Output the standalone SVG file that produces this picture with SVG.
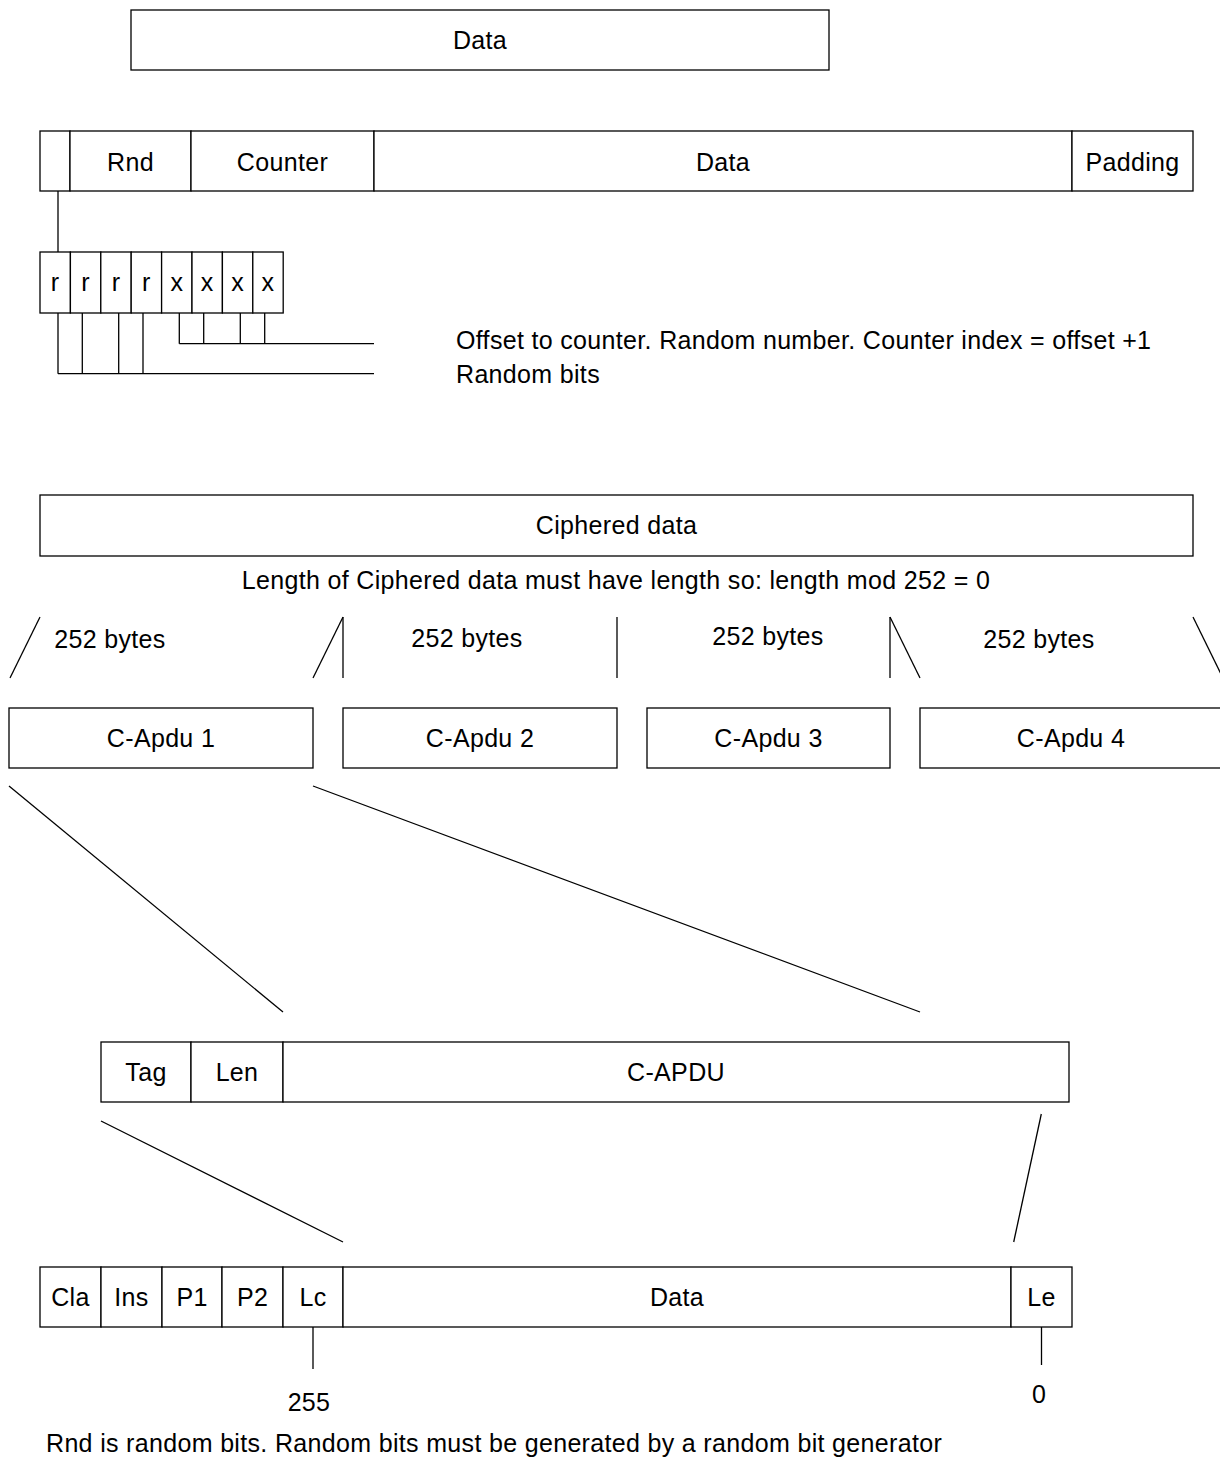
<svg xmlns="http://www.w3.org/2000/svg" width="1220" height="1457" viewBox="0 0 1220 1457">
<style>
rect{fill:#fff;stroke:#000;stroke-width:1.3}
line{stroke:#000;stroke-width:1.3}
text{font-family:"Liberation Sans",Arial,sans-serif;font-size:25px;letter-spacing:0.33px;fill:#000}
.c{text-anchor:middle}
</style>
<rect x="0" y="0" width="1220" height="1457" style="stroke:none"/>
<g id="data-top"><rect x="131" y="10" width="698" height="60"/><text class="c" x="480" y="49">Data</text></g>
<g id="frame">
<rect x="40" y="131" width="30" height="60"/>
<rect x="70" y="131" width="121" height="60"/><text class="c" x="130.5" y="170.5">Rnd</text>
<rect x="191" y="131" width="183" height="60"/><text class="c" x="282.5" y="170.5">Counter</text>
<rect x="374" y="131" width="698" height="60"/><text class="c" x="723" y="170.5">Data</text>
<rect x="1072" y="131" width="121" height="60"/><text class="c" x="1132.5" y="170.5">Padding</text>
</g>
<g id="bits">
<rect x="40" y="252" width="30.4" height="61"/><text class="c" x="55.2" y="291">r</text>
<rect x="70.4" y="252" width="30.4" height="61"/><text class="c" x="85.6" y="291">r</text>
<rect x="100.8" y="252" width="30.4" height="61"/><text class="c" x="116" y="291">r</text>
<rect x="131.2" y="252" width="30.4" height="61"/><text class="c" x="146.4" y="291">r</text>
<rect x="161.6" y="252" width="30.4" height="61"/><text class="c" x="176.8" y="291">x</text>
<rect x="192" y="252" width="30.4" height="61"/><text class="c" x="207.2" y="291">x</text>
<rect x="222.4" y="252" width="30.4" height="61"/><text class="c" x="237.6" y="291">x</text>
<rect x="252.8" y="252" width="30.4" height="61"/><text class="c" x="268" y="291">x</text>
</g>
<g id="bit-notes">
<text x="456" y="349">Offset to counter. Random number. Counter index = offset +1</text>
<text x="456" y="383">Random bits</text>
</g>
<g id="ciphered"><rect x="40" y="495" width="1153" height="61"/><text class="c" x="616.5" y="533.5">Ciphered data</text>
<text class="c" x="616" y="589">Length of Ciphered data must have length so: length mod 252 = 0</text></g>
<g id="sizes">
<text class="c" x="110" y="648">252 bytes</text>
<text class="c" x="467" y="647">252 bytes</text>
<text class="c" x="768" y="645">252 bytes</text>
<text class="c" x="1039" y="648">252 bytes</text>
</g>
<g id="capdu1"><rect x="9" y="708" width="304" height="60"/><text class="c" x="161" y="746.5">C-Apdu 1</text></g>
<g id="capdu2"><rect x="343" y="708" width="274" height="60"/><text class="c" x="480" y="746.5">C-Apdu 2</text></g>
<g id="capdu3"><rect x="647" y="708" width="243" height="60"/><text class="c" x="768.5" y="746.5">C-Apdu 3</text></g>
<g id="capdu4"><rect x="920" y="708" width="302" height="60"/><text class="c" x="1071" y="746.5">C-Apdu 4</text></g>
<g id="tlv">
<rect x="101" y="1042" width="90" height="60"/><text class="c" x="146" y="1080.5">Tag</text>
<rect x="191" y="1042" width="92" height="60"/><text class="c" x="237" y="1080.5">Len</text>
<rect x="283" y="1042" width="786" height="60"/><text class="c" x="676" y="1080.5">C-APDU</text>
</g>
<g id="apdu">
<rect x="40" y="1267" width="61" height="60"/><text class="c" x="70.5" y="1305.5">Cla</text>
<rect x="101" y="1267" width="61" height="60"/><text class="c" x="131.5" y="1305.5">Ins</text>
<rect x="162" y="1267" width="60" height="60"/><text class="c" x="192" y="1305.5">P1</text>
<rect x="222" y="1267" width="61" height="60"/><text class="c" x="252.5" y="1305.5">P2</text>
<rect x="283" y="1267" width="60" height="60"/><text class="c" x="313" y="1305.5">Lc</text>
<rect x="343" y="1267" width="668" height="60"/><text class="c" x="677" y="1305.5">Data</text>
<rect x="1011" y="1267" width="61" height="60"/><text class="c" x="1041.5" y="1305.5">Le</text>
</g>
<g id="values">
<text class="c" x="309" y="1411">255</text>
<text class="c" x="1039" y="1403">0</text>
<text x="46" y="1452">Rnd is random bits. Random bits must be generated by a random bit generator</text>
</g>
<g id="connectors">
<line x1="58" y1="191" x2="58" y2="252"/>
<line x1="179.3" y1="313" x2="179.3" y2="343.7"/>
<line x1="203.7" y1="313" x2="203.7" y2="343.7"/>
<line x1="240.3" y1="313" x2="240.3" y2="343.7"/>
<line x1="264.7" y1="313" x2="264.7" y2="343.7"/>
<line x1="179.3" y1="343.7" x2="374" y2="343.7"/>
<line x1="58" y1="313" x2="58" y2="373.7"/>
<line x1="82.3" y1="313" x2="82.3" y2="373.7"/>
<line x1="118.7" y1="313" x2="118.7" y2="373.7"/>
<line x1="143" y1="313" x2="143" y2="373.7"/>
<line x1="58" y1="373.7" x2="374" y2="373.7"/>
<line x1="40" y1="617" x2="10" y2="678"/>
<line x1="343" y1="617" x2="313" y2="678"/>
<line x1="343" y1="617" x2="343" y2="678"/>
<line x1="617" y1="617" x2="617" y2="678"/>
<line x1="890" y1="617" x2="890" y2="678"/>
<line x1="890" y1="617" x2="920" y2="678"/>
<line x1="1193" y1="617" x2="1222" y2="676"/>
<line x1="9" y1="786" x2="283" y2="1012"/>
<line x1="313" y1="786" x2="920" y2="1012"/>
<line x1="101" y1="1121" x2="343" y2="1242"/>
<line x1="1041.3" y1="1114" x2="1013.7" y2="1242"/>
<line x1="313" y1="1327" x2="313" y2="1369"/>
<line x1="1041.5" y1="1327" x2="1041.5" y2="1365"/>
</g>
</svg>
